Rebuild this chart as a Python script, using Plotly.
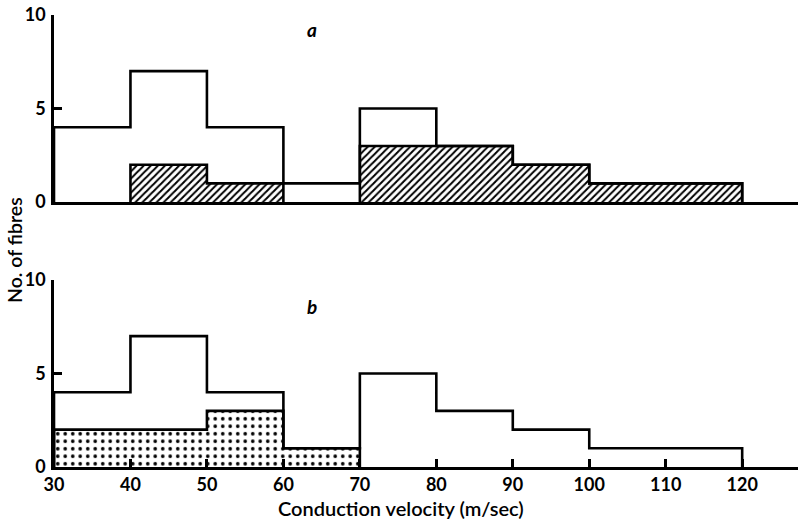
import plotly.graph_objects as go
from plotly.subplots import make_subplots

# Bin edges (m/sec)
bin_left = [30, 40, 50, 60, 70, 80, 90, 100, 110]
bin_width = 10
# Outline (total counts), same in both panels
total_counts = [4, 7, 4, 1, 5, 3, 2, 1, 1]
# Panel a hatched counts
hatched_counts = [0, 2, 1, 0, 3, 3, 2, 1, 1]
# Panel b dotted counts
dotted_counts = [2, 2, 3, 1, 0, 0, 0, 0, 0]

x_ticks = [30, 40, 50, 60, 70, 80, 90, 100, 110, 120]
y_ticks = [0, 5, 10]

FONT = "Lato"
LW = 2.6


def envelope(counts):
    """Build step-outline segments (x, y) for contiguous non-zero runs."""
    xs, ys = [], []
    run = []
    for i, c in enumerate(counts + [0]):
        if i < len(counts) and c > 0:
            run.append(i)
        else:
            if run:
                x0 = bin_left[run[0]]
                xs.append(x0); ys.append(0)
                for j in run:
                    xs.append(bin_left[j]); ys.append(counts[j])
                    xs.append(bin_left[j] + bin_width); ys.append(counts[j])
                xs.append(bin_left[run[-1]] + bin_width); ys.append(0)
                xs.append(None); ys.append(None)
                run = []
    return xs, ys


fig = make_subplots(rows=2, cols=1, vertical_spacing=0.0)

centers = [b + bin_width / 2 for b in bin_left]

fig.add_trace(go.Bar(
    x=centers, y=hatched_counts, width=bin_width,
    marker=dict(color="white", line=dict(width=0),
                pattern=dict(shape="/", fgcolor="black", bgcolor="white",
                             fgopacity=1, size=5, solidity=0.4)),
    showlegend=False, hoverinfo="skip"), row=1, col=1)

fig.add_trace(go.Bar(
    x=centers, y=dotted_counts, width=bin_width,
    marker=dict(color="white", line=dict(width=0),
                pattern=dict(shape=".", fgcolor="black", bgcolor="white",
                             fgopacity=1, size=7.5, solidity=0.18)),
    showlegend=False, hoverinfo="skip"), row=2, col=1)

for row, sub in ((1, hatched_counts), (2, dotted_counts)):
    tx, ty = envelope(total_counts)
    fig.add_trace(go.Scatter(x=tx, y=ty, mode="lines",
                             line=dict(color="black", width=LW),
                             showlegend=False, hoverinfo="skip"),
                  row=row, col=1)
    sx, sy = envelope(sub)
    fig.add_trace(go.Scatter(x=sx, y=sy, mode="lines",
                             line=dict(color="black", width=LW),
                             showlegend=False, hoverinfo="skip"),
                  row=row, col=1)

tickfont = dict(family=FONT, size=18, color="black", weight="bold")
common_y = dict(range=[0, 10], tickvals=y_ticks, showline=True,
                linecolor="black", linewidth=LW, ticks="inside", ticklen=8,
                tickwidth=LW, tickcolor="black", showgrid=False,
                zeroline=False, ticklabelstandoff=2, automargin=False,
                tickfont=tickfont)

L, T, PW, PH = 54, 15, 744, 452

fig.update_layout(
    width=807, height=521,
    margin=dict(l=L, r=9, t=T, b=54),
    plot_bgcolor="white", paper_bgcolor="white",
    bargap=0,
    font=dict(family=FONT, size=18, color="black"),
    xaxis=dict(domain=[0, 1], range=[30, 127.3], showline=True, linecolor="black",
               linewidth=LW, ticks="", showticklabels=False, showgrid=False,
               zeroline=False, anchor="y", automargin=False),
    yaxis=dict(domain=[0.586, 1.0], **common_y),
    xaxis2=dict(domain=[0, 1], range=[30, 127.3], tickvals=x_ticks,
                showline=True, linecolor="black", linewidth=LW,
                ticks="inside", ticklen=8, tickwidth=LW, tickcolor="black",
                showgrid=False, zeroline=False, anchor="y2", automargin=False,
                tickfont=tickfont),
    yaxis2=dict(domain=[0.0, 0.4137], **common_y),
)

fig.add_annotation(text="<b><i>a</i></b>", x=63.7, y=9.2, xref="x", yref="y",
                   showarrow=False, font=dict(size=19))
fig.add_annotation(text="<b><i>b</i></b>", x=63.7, y=8.6, xref="x2", yref="y2",
                   showarrow=False, font=dict(size=19))
fig.add_annotation(text="No. of fibres", textangle=-90,
                   x=(14 - L) / PW, y=(T + PH - 250) / PH,
                   xref="paper", yref="paper", xanchor="center",
                   yanchor="middle", showarrow=False,
                   font=dict(family=FONT, size=19.5, weight=600))
fig.add_annotation(text="Conduction velocity (m/sec)",
                   x=(401 - L) / PW, y=(T + PH - 508) / PH,
                   xref="paper", yref="paper", xanchor="center",
                   yanchor="middle", showarrow=False,
                   font=dict(family=FONT, size=20, weight=600))

fig.write_html("out.html",
               config={"displayModeBar": False},
               post_script="document.body.style.margin='0';"
                           "document.body.style.overflow='hidden';")
